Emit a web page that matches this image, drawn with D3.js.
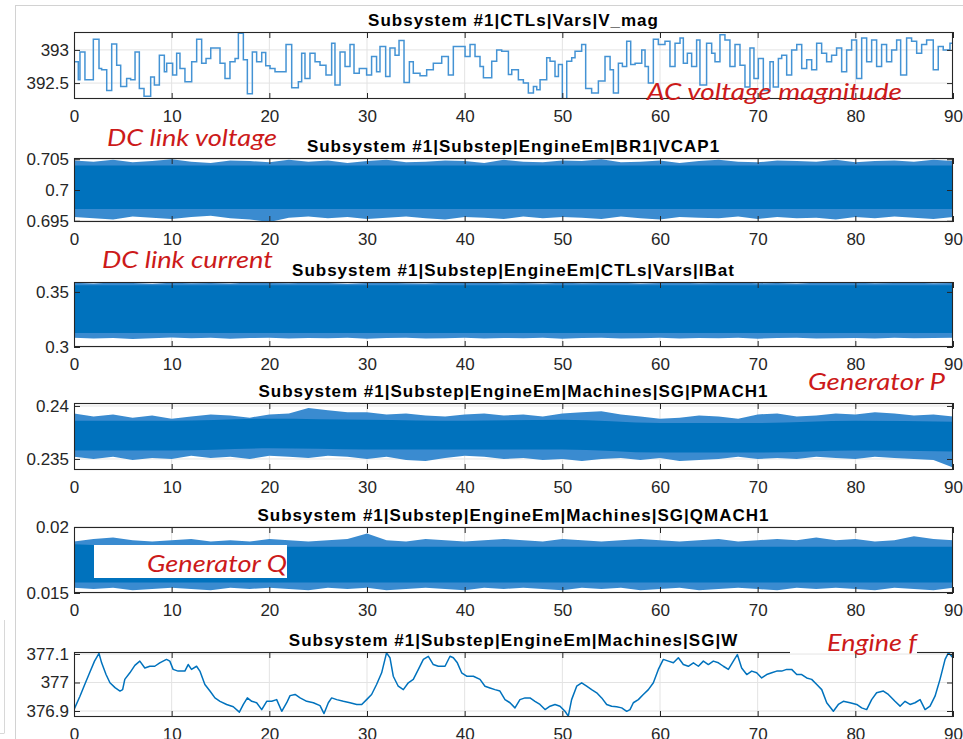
<!DOCTYPE html>
<html>
<head>
<meta charset="utf-8">
<script src="https://cdn.jsdelivr.net/npm/d3@7/dist/d3.min.js"></script>
<style>
  body { margin: 0; background: #fff; }
  svg text { font-family: "Liberation Sans", Arial, Helvetica, sans-serif; }
  .note { font-family: Lato, "Open Sans", sans-serif; font-style: italic; fill: #cc1a1a; }
</style>
</head>
<body>
<svg id="chart" width="963" height="739"></svg>
<script>
// ---------- data ----------
const xTicks = [0, 10, 20, 30, 40, 50, 60, 70, 80, 90];

// AC voltage magnitude: step changes (start time, level)
const vmagT = [0, 0.44, 0.61, 1.12, 1.98, 2.56, 2.83, 3.35, 3.86, 4.37, 4.78, 5.39, 5.8, 6.25, 6.69, 7.17, 7.85, 8.23, 8.74, 9.25,
  9.49, 10.1, 10.51, 10.85, 11.36, 12.05, 12.56, 13.07, 13.52, 14.0, 14.95, 15.46, 15.97, 16.49, 16.83, 17.34, 17.75, 18.26, 18.7, 19.22,
  19.63, 20.07, 20.58, 21.71, 22.29, 22.97, 23.31, 23.65, 24.16, 24.68, 25.19, 25.8, 26.38, 26.72, 27.24, 27.75, 28.26, 28.67, 29.21, 29.96,
  30.47, 30.98, 31.33, 31.91, 32.35, 32.87, 33.28, 33.79, 34.34, 34.74, 35.43, 36.11, 36.79, 37.65, 38.33, 38.84,
  40.04, 40.55, 41.06, 41.57, 41.92, 42.77, 43.28, 43.79, 44.48, 44.82, 45.5, 46.01, 46.52, 47.04, 47.38, 47.72, 48.4, 48.74, 49.25, 49.6,
  50.0, 50.45, 50.96, 51.3, 51.98, 52.39, 53.0, 53.69, 54.37, 54.89, 55.23, 55.74, 56.15, 56.59, 57.0, 57.45, 58.13, 58.47, 58.81, 59.32,
  59.83, 60.51, 61.02, 61.54, 62.05, 62.39, 62.8, 63.24, 63.75, 64.09, 64.77, 65.29, 65.63, 66.14, 66.65, 67.16, 67.68, 68.19, 68.7, 69.21,
  69.62, 70.07, 70.58, 71.26, 71.6, 72.12, 72.46, 72.97, 73.48, 74.0, 74.51, 75.02, 75.53, 76.04, 76.55, 77.06, 77.57, 78.08, 78.6, 79.11,
  79.62, 80.13, 80.65, 81.16, 81.67, 82.18, 82.69, 83.2, 83.72, 84.23, 84.64, 85.25, 85.76, 86.28, 86.79, 87.3, 87.98, 88.49, 89.0, 89.69, 90];
const vmagV = [392.82, 392.55, 392.97, 392.55, 393.16, 392.72, 392.70, 392.39, 393.09, 392.77, 392.45, 392.57, 392.55, 392.97, 392.42, 392.30, 392.59, 392.47, 392.92, 392.67,
  392.80, 392.62, 392.95, 392.72, 392.52, 392.82, 393.16, 392.80, 392.87, 393.03, 392.80, 392.57, 392.82, 392.87, 393.25, 392.85, 392.34, 392.97, 392.82, 392.96,
  392.76, 392.72, 392.67, 393.08, 392.43, 392.52, 392.95, 392.57, 392.95, 392.82, 392.77, 392.62, 393.10, 392.47, 392.97, 392.75, 393.08, 392.65, 392.72, 392.62,
  392.90, 392.67, 393.05, 392.60, 393.03, 392.92, 393.14, 392.51, 392.82, 392.65, 392.61, 392.70, 392.80, 392.90, 392.62, 393.05,
  392.90, 393.08, 392.90, 392.75, 392.58, 392.83, 393.00, 392.98, 392.63, 392.70, 392.55, 392.50, 392.35, 392.45, 392.40, 392.55, 392.88, 392.83, 392.60, 392.78,
  392.25, 392.83, 392.88, 392.98, 393.08, 392.42, 392.35, 392.53, 392.90, 392.70, 392.35, 392.80, 392.75, 393.13, 392.78, 392.80, 393.00, 392.75, 392.50, 393.16,
  393.08, 393.13, 392.75, 393.10, 393.18, 392.80, 392.95, 392.75, 393.15, 392.47, 393.10, 392.95, 392.82, 393.23, 393.15, 392.75, 393.08, 392.77, 392.44, 393.03,
  392.57, 392.87, 392.39, 392.82, 392.44, 392.87, 392.92, 392.62, 393.00, 393.08, 392.72, 392.85, 392.70, 393.10, 392.95, 392.82, 392.92, 393.03, 392.67, 393.00,
  393.15, 392.57, 393.18, 392.82, 393.15, 392.75, 393.08, 392.82, 393.00, 393.15, 392.62, 393.18, 393.13, 392.95, 393.08, 393.15, 392.70, 393.05, 393.00, 393.10, 393.10];

// envelope sample times for the dense signals (s)
const envT = [0, 2, 4, 6, 8, 10, 12, 14, 16, 18, 20, 22, 24, 26, 28, 30, 32, 34, 36, 38, 40, 42, 44, 46, 48,
  50, 52, 54, 56, 58, 60, 62, 64, 66, 68, 70, 72, 74, 76, 78, 80, 82, 84, 86, 88, 90];
const coreT = [0, 10, 20, 30, 40, 50, 60, 70, 80, 90];

// DC link voltage (VCAP1)
const vcapHi = [0.7048, 0.7046, 0.7049, 0.7045, 0.7047, 0.7050, 0.7046, 0.7044, 0.7048, 0.7047, 0.7045, 0.7049, 0.7046, 0.7048, 0.7044, 0.7047,
  0.7049, 0.7045, 0.7046, 0.7048, 0.7047, 0.7044, 0.7049, 0.7046, 0.7045, 0.7048, 0.7047, 0.7050, 0.7045, 0.7046, 0.7048, 0.7044,
  0.7047, 0.7049, 0.7046, 0.7045, 0.7048, 0.7047, 0.7046, 0.7049, 0.7045, 0.7047, 0.7048, 0.7046, 0.7049, 0.7047];
const vcapLo = [0.6956, 0.6954, 0.6952, 0.6957, 0.6955, 0.6953, 0.6956, 0.6958, 0.6954, 0.6952, 0.6948, 0.6955, 0.6957, 0.6954, 0.6956, 0.6953,
  0.6955, 0.6957, 0.6954, 0.6952, 0.6956, 0.6955, 0.6953, 0.6957, 0.6954, 0.6956, 0.6955, 0.6953, 0.6957, 0.6954, 0.6952, 0.6956,
  0.6955, 0.6954, 0.6957, 0.6953, 0.6956, 0.6954, 0.6955, 0.6952, 0.6956, 0.6954, 0.6957, 0.6955, 0.6953, 0.6956];
const vcapCoreHi = [0.7040, 0.7040, 0.7040, 0.7040, 0.7040, 0.7040, 0.7040, 0.7040, 0.7040, 0.7040];
const vcapCoreLo = [0.6969, 0.6969, 0.6969, 0.6969, 0.6969, 0.6969, 0.6969, 0.6969, 0.6969, 0.6969];

// DC link current (IBat)
const ibatHi = [0.3583, 0.3577, 0.3585, 0.3580, 0.3575, 0.3584, 0.3579, 0.3582, 0.3576, 0.3585, 0.3581, 0.3578, 0.3583, 0.3580, 0.3575, 0.3582,
  0.3584, 0.3579, 0.3577, 0.3583, 0.3580, 0.3585, 0.3578, 0.3581, 0.3576, 0.3583, 0.3579, 0.3582, 0.3584, 0.3577, 0.3581, 0.3583,
  0.3578, 0.3580, 0.3585, 0.3579, 0.3582, 0.3576, 0.3583, 0.3580, 0.3584, 0.3578, 0.3581, 0.3583, 0.3579, 0.3582];
const ibatLo = [0.3085, 0.3078, 0.3082, 0.3072, 0.3080, 0.3086, 0.3079, 0.3083, 0.3076, 0.3081, 0.3084, 0.3077, 0.3082, 0.3079, 0.3085, 0.3074,
  0.3081, 0.3083, 0.3078, 0.3080, 0.3085, 0.3077, 0.3082, 0.3079, 0.3084, 0.3076, 0.3081, 0.3083, 0.3078, 0.3080, 0.3085, 0.3077,
  0.3082, 0.3079, 0.3084, 0.3076, 0.3081, 0.3083, 0.3078, 0.3080, 0.3082, 0.3077, 0.3084, 0.3079, 0.3081, 0.3083];
const ibatCoreHi = [0.3560, 0.3560, 0.3560, 0.3560, 0.3560, 0.3560, 0.3560, 0.3560, 0.3560, 0.3560];
const ibatCoreLo = [0.3128, 0.3128, 0.3128, 0.3128, 0.3128, 0.3128, 0.3128, 0.3128, 0.3128, 0.3128];

// Generator active power (PMACH1)
const pHi = [0.2393, 0.2390, 0.2392, 0.2389, 0.2391, 0.2388, 0.2390, 0.2392, 0.2391, 0.2389, 0.2392, 0.2393, 0.2398, 0.2396, 0.2394, 0.2394,
  0.2392, 0.2393, 0.2391, 0.2390, 0.2392, 0.2393, 0.2391, 0.2392, 0.2390, 0.2393, 0.2394, 0.2395, 0.2392, 0.2390, 0.2388, 0.2389,
  0.2391, 0.2390, 0.2388, 0.2392, 0.2393, 0.2390, 0.2391, 0.2393, 0.2392, 0.2394, 0.2393, 0.2391, 0.2392, 0.2390];
const pLo = [0.2352, 0.2350, 0.2352, 0.2349, 0.2351, 0.2350, 0.2353, 0.2351, 0.2352, 0.2350, 0.2353, 0.2352, 0.2351, 0.2353, 0.2352, 0.2350,
  0.2352, 0.2349, 0.2348, 0.2351, 0.2353, 0.2352, 0.2350, 0.2351, 0.2349, 0.2350, 0.2348, 0.2350, 0.2351, 0.2349, 0.2351, 0.2348,
  0.2349, 0.2350, 0.2352, 0.2350, 0.2351, 0.2350, 0.2352, 0.2351, 0.2350, 0.2352, 0.2351, 0.2350, 0.2349, 0.2342];
const pCoreHi = [0.2386, 0.2386, 0.2388, 0.2387, 0.2386, 0.2387, 0.2384, 0.2384, 0.2386, 0.2385];
const pCoreLo = [0.2358, 0.2358, 0.2360, 0.2359, 0.2359, 0.2359, 0.2356, 0.2356, 0.2358, 0.2357];

// Generator reactive power (QMACH1)
const qHi = [0.0189, 0.0191, 0.0192, 0.0190, 0.0189, 0.0190, 0.0191, 0.0189, 0.0190, 0.0189, 0.0191, 0.0190, 0.0189, 0.0190, 0.0191, 0.0195,
  0.0190, 0.0189, 0.0191, 0.0190, 0.0189, 0.0190, 0.0191, 0.0190, 0.0189, 0.0191, 0.0190, 0.0189, 0.0190, 0.0191, 0.0190, 0.0189,
  0.0190, 0.0191, 0.0189, 0.0190, 0.0191, 0.0190, 0.0192, 0.0190, 0.0191, 0.0189, 0.0190, 0.0193, 0.0191, 0.0190];
const qLo = [0.0154, 0.0153, 0.0154, 0.0152, 0.0153, 0.0154, 0.0153, 0.0152, 0.0154, 0.0153, 0.0154, 0.0153, 0.0152, 0.0154, 0.0153, 0.0154,
  0.0152, 0.0153, 0.0154, 0.0153, 0.0152, 0.0154, 0.0153, 0.0154, 0.0153, 0.0152, 0.0154, 0.0153, 0.0154, 0.0152, 0.0153, 0.0154,
  0.0152, 0.0153, 0.0154, 0.0153, 0.0152, 0.0154, 0.0153, 0.0154, 0.0153, 0.0152, 0.0154, 0.0153, 0.0152, 0.0154];
const qCoreHi = [0.0187, 0.0185, 0.0185, 0.0185, 0.0185, 0.0185, 0.0185, 0.0185, 0.0185, 0.0185];
const qCoreLo = [0.0158, 0.0158, 0.0158, 0.0158, 0.0158, 0.0158, 0.0158, 0.0158, 0.0158, 0.0158];

// Engine speed (W)
const wT = [0, 0.61, 1.1, 1.6, 2.1, 2.56, 2.83, 3.28, 3.68, 4.2, 4.71, 4.98, 5.2, 5.72, 6.23, 6.74, 7.25, 7.76, 8.27, 8.78,
  9.47, 9.81, 10.15, 10.66, 11.35, 11.69, 12.03, 12.55, 12.89, 13.4, 13.92, 14.43, 14.95, 15.63, 16.31, 16.93, 17.34, 17.75, 18.2, 18.7,
  19.22, 19.73, 20.24, 20.75, 21.27, 21.78, 22.12, 22.64, 23.15, 23.83, 24.51, 25.19, 25.6, 26.04, 26.38, 26.9, 27.58, 28.26, 28.95, 29.46,
  29.96, 30.47, 30.98, 31.5, 32.0, 32.35, 32.69, 33.2, 33.72, 34.23, 34.74, 35.26, 35.77, 36.28, 36.79, 37.3, 37.99, 38.5, 38.84, 39.25,
  39.69, 40.2, 40.89, 41.57, 42.08, 42.59, 43.1, 43.61, 44.13, 44.64, 45.15, 45.66, 46.18, 46.69, 47.2, 47.71, 48.23, 48.74, 49.25, 49.76,
  50.27, 50.61, 50.95, 51.47, 51.98, 52.49, 53.0, 53.52, 54.03, 54.54, 55.05, 55.56, 56.08, 56.59, 56.93, 57.27, 57.78, 58.29, 58.81, 59.32,
  59.83, 60.34, 60.86, 61.37, 61.88, 62.39, 62.9, 63.42, 63.93, 64.44, 64.95, 65.46, 65.98, 66.49, 67.0, 67.51, 67.92, 68.36, 68.88, 69.39,
  69.9, 70.41, 70.92, 71.44, 71.95, 72.46, 72.97, 73.48, 74.0, 74.51, 75.02, 75.53, 76.05, 76.56, 77.07, 77.75, 78.26, 78.77, 79.46, 80.14,
  80.65, 81.16, 81.67, 82.18, 82.87, 83.38, 84.06, 84.58, 85.09, 85.6, 86.11, 86.63, 87.14, 87.65, 88.16, 88.67, 89.19, 89.53, 90];
const wV = [376.905, 376.952, 376.993, 377.034, 377.075, 377.102, 377.069, 377.028, 376.999, 376.982, 376.970, 376.975, 377.011, 377.034, 377.060, 377.075, 377.051, 377.057, 377.057, 377.069,
  377.081, 377.075, 377.046, 377.040, 377.040, 377.063, 377.046, 377.057, 377.040, 376.993, 376.970, 376.946, 376.934, 376.923, 376.915, 376.896, 376.923, 376.946, 376.934, 376.929,
  376.905, 376.934, 376.934, 376.940, 376.899, 376.929, 376.954, 376.958, 376.946, 376.934, 376.929, 376.919, 376.891, 376.929, 376.946, 376.940, 376.934, 376.929, 376.923, 376.923,
  376.940, 376.958, 376.993, 377.034, 377.104, 377.087, 377.022, 376.987, 376.975, 376.999, 377.011, 377.046, 377.081, 377.092, 377.063, 377.057, 377.057, 377.092, 377.087, 377.069,
  377.034, 377.022, 377.022, 377.011, 376.987, 376.981, 376.975, 376.970, 376.940, 376.929, 376.911, 376.940, 376.946, 376.946, 376.934, 376.923, 376.905, 376.917, 376.923, 376.917,
  376.899, 376.882, 376.940, 376.987, 376.999, 376.987, 376.975, 376.964, 376.946, 376.923, 376.917, 376.915, 376.911, 376.899, 376.905, 376.929, 376.940, 376.958, 376.975, 376.999,
  377.046, 377.081, 377.075, 377.069, 377.087, 377.063, 377.057, 377.069, 377.057, 377.075, 377.063, 377.075, 377.069, 377.057, 377.046, 377.075, 377.098, 377.051, 377.028, 377.040,
  377.034, 377.016, 377.028, 377.034, 377.040, 377.040, 377.046, 377.046, 377.028, 377.028, 377.016, 377.011, 376.993, 376.975, 376.929, 376.899, 376.923, 376.934, 376.929, 376.923,
  376.911, 376.905, 376.940, 376.964, 376.970, 376.958, 376.934, 376.917, 376.934, 376.923, 376.929, 376.940, 376.905, 376.917, 376.952, 377.011, 377.081, 377.104, 377.087];

// axis tick labels
const yTicks1 = [392.5, 393];
const yTicks2 = [0.695, 0.7, 0.705];
const yTicks3 = [0.3, 0.35];
const yTicks4 = [0.235, 0.24];
const yTicks5 = [0.015, 0.02];
const yTicks6 = [376.9, 377, 377.1];

const titles = [
  "Subsystem #1|CTLs|Vars|V_mag",
  "Subsystem #1|Substep|EngineEm|BR1|VCAP1",
  "Subsystem #1|Substep|EngineEm|CTLs|Vars|IBat",
  "Subsystem #1|Substep|EngineEm|Machines|SG|PMACH1",
  "Subsystem #1|Substep|EngineEm|Machines|SG|QMACH1",
  "Subsystem #1|Substep|EngineEm|Machines|SG|W"
];

// ---------- layout ----------
const svg = d3.select("#chart");
const L = 74, R = 953;
const x = d3.scaleLinear().domain([0, 90]).range([L, R]);
const BLUE = "#0072BD";
const FRINGE = "#3a8bd0";

// outer figure frame
svg.append("line").attr("x1", 15.5).attr("x2", 15.5).attr("y1", 5).attr("y2", 739).attr("stroke", "#d2d2d2");
svg.append("line").attr("x1", 15).attr("x2", 963).attr("y1", 5.5).attr("y2", 5.5).attr("stroke", "#d2d2d2");
svg.append("line").attr("x1", 4.5).attr("x2", 4.5).attr("y1", 620).attr("y2", 733).attr("stroke", "#d8d8d8");
svg.append("line").attr("x1", 0).attr("x2", 4.5).attr("y1", 733.5).attr("y2", 733.5).attr("stroke", "#d8d8d8");

const panels = [
  { top: 32,  bottom: 99,  dom: [392.26, 393.27],   ticks: yTicks1, kind: "step" },
  { top: 158, bottom: 222, dom: [0.6948, 0.7052],   ticks: yTicks2, kind: "band", hi: vcapHi, lo: vcapLo, cHi: vcapCoreHi, cLo: vcapCoreLo },
  { top: 282, bottom: 347, dom: [0.3, 0.359],       ticks: yTicks3, kind: "band", hi: ibatHi, lo: ibatLo, cHi: ibatCoreHi, cLo: ibatCoreLo },
  { top: 403, bottom: 470, dom: [0.23396, 0.24028], ticks: yTicks4, kind: "band", hi: pHi, lo: pLo, cHi: pCoreHi, cLo: pCoreLo },
  { top: 527, bottom: 593, dom: [0.015, 0.02],      ticks: yTicks5, kind: "band", hi: qHi, lo: qLo, cHi: qCoreHi, cLo: qCoreLo },
  { top: 652, bottom: 717, dom: [376.879, 377.107], ticks: yTicks6, kind: "line" }
];

panels.forEach((p, i) => {
  const y = d3.scaleLinear().domain(p.dom).range([p.bottom, p.top]);
  const g = svg.append("g");
  const clipId = "clip" + i;
  g.append("clipPath").attr("id", clipId)
    .append("rect").attr("x", L).attr("y", p.top).attr("width", R - L).attr("height", p.bottom - p.top);

  // plot background + grid
  g.append("rect").attr("x", L).attr("y", p.top).attr("width", R - L).attr("height", p.bottom - p.top).attr("fill", "#fff");
  g.append("g").selectAll("line").data(xTicks.slice(1, -1)).join("line")
    .attr("x1", d => x(d)).attr("x2", d => x(d)).attr("y1", p.top).attr("y2", p.bottom)
    .attr("stroke", "#e3e3e3").attr("stroke-width", 1);
  g.append("g").selectAll("line").data(p.ticks).join("line")
    .attr("x1", L).attr("x2", R).attr("y1", d => y(d)).attr("y2", d => y(d))
    .attr("stroke", "#e3e3e3").attr("stroke-width", 1);

  const data = g.append("g").attr("clip-path", `url(#${clipId})`);
  if (p.kind === "step") {
    const pts = vmagT.map((t, k) => [t, vmagV[k]]);
    data.append("path").datum(pts)
      .attr("d", d3.line().x(d => x(d[0])).y(d => y(d[1])).curve(d3.curveStepAfter))
      .attr("fill", "none").attr("stroke", "#4493d4").attr("stroke-width", 1.5);
  } else if (p.kind === "band") {
    // outer extremes (spikes) as a lighter band, dense core on top
    const outer = envT.map((t, k) => ({ t, hi: p.hi[k], lo: p.lo[k] }));
    const core = coreT.map((t, k) => ({ t, hi: p.cHi[k], lo: p.cLo[k] }));
    data.append("path").datum(outer)
      .attr("d", d3.area().x(d => x(d.t)).y0(d => y(d.lo)).y1(d => y(d.hi)))
      .attr("fill", FRINGE);
    data.append("path").datum(core)
      .attr("d", d3.area().x(d => x(d.t)).y0(d => y(d.lo)).y1(d => y(d.hi)).curve(d3.curveMonotoneX))
      .attr("fill", BLUE);
  } else {
    const pts = wT.map((t, k) => [t, wV[k]]);
    data.append("path").datum(pts)
      .attr("d", d3.line().x(d => x(d[0])).y(d => y(d[1])))
      .attr("fill", "none").attr("stroke", BLUE).attr("stroke-width", 1.5).attr("stroke-linejoin", "round");
  }

  // axes with inward ticks on all four sides
  const axisColor = "#262626";
  const ax = (sel) => {
    sel.select(".domain").remove();
    sel.selectAll(".tick line").attr("stroke", axisColor);
    sel.selectAll(".tick text").attr("fill", axisColor).style("font-size", "17px");
  };
  g.append("g").attr("transform", `translate(${L},0)`)
    .call(d3.axisLeft(y).tickValues(p.ticks).tickFormat(d => String(d)).tickSizeInner(-6).tickSizeOuter(0).tickPadding(5)).call(ax);
  g.append("g").attr("transform", `translate(${R},0)`)
    .call(d3.axisRight(y).tickValues(p.ticks).tickFormat("").tickSizeInner(-6).tickSizeOuter(0)).call(ax);
  g.append("g").attr("transform", `translate(0,${p.bottom})`)
    .call(d3.axisBottom(x).tickValues(xTicks).tickFormat(d => String(d)).tickSizeInner(-6).tickSizeOuter(0).tickPadding(11)).call(ax);
  g.append("g").attr("transform", `translate(0,${p.top})`)
    .call(d3.axisTop(x).tickValues(xTicks).tickFormat("").tickSizeInner(-6).tickSizeOuter(0)).call(ax);
  g.selectAll("text").attr("font-family", null);

  g.append("rect").attr("x", L + 0.5).attr("y", p.top + 0.5).attr("width", R - L - 1).attr("height", p.bottom - p.top - 1)
    .attr("fill", "none").attr("stroke", axisColor).attr("stroke-width", 1.1);

  // title
  g.append("text").attr("x", (L + R) / 2).attr("y", p.top - 6)
    .attr("text-anchor", "middle").attr("font-weight", "bold").attr("font-size", 17)
    .attr("letter-spacing", 1).attr("fill", "#000").text(titles[i]);
});

// ---------- annotations ----------
svg.append("rect").attr("x", 94).attr("y", 545).attr("width", 193).attr("height", 33).attr("fill", "#fff");
svg.append("rect").attr("x", 790).attr("y", 620).attr("width", 127).attr("height", 33.5).attr("fill", "#fff");

const notes = [
  { text: "AC voltage magnitude", x: 647, y: 100, w: 255 },
  { text: "DC link voltage", x: 107, y: 146, w: 170 },
  { text: "DC link current", x: 102, y: 268, w: 171 },
  { text: "Generator P", x: 808, y: 390, w: 137 },
  { text: "Generator Q", x: 147, y: 572, w: 140 },
  { text: "Engine f", x: 827, y: 651, w: 90 }
];
svg.selectAll("text.note").data(notes).join("text")
  .attr("class", "note")
  .attr("x", d => d.x).attr("y", d => d.y)
  .attr("font-size", 24)
  .attr("textLength", d => d.w).attr("lengthAdjust", "spacingAndGlyphs")
  .text(d => d.text);
</script>
</body>
</html>
